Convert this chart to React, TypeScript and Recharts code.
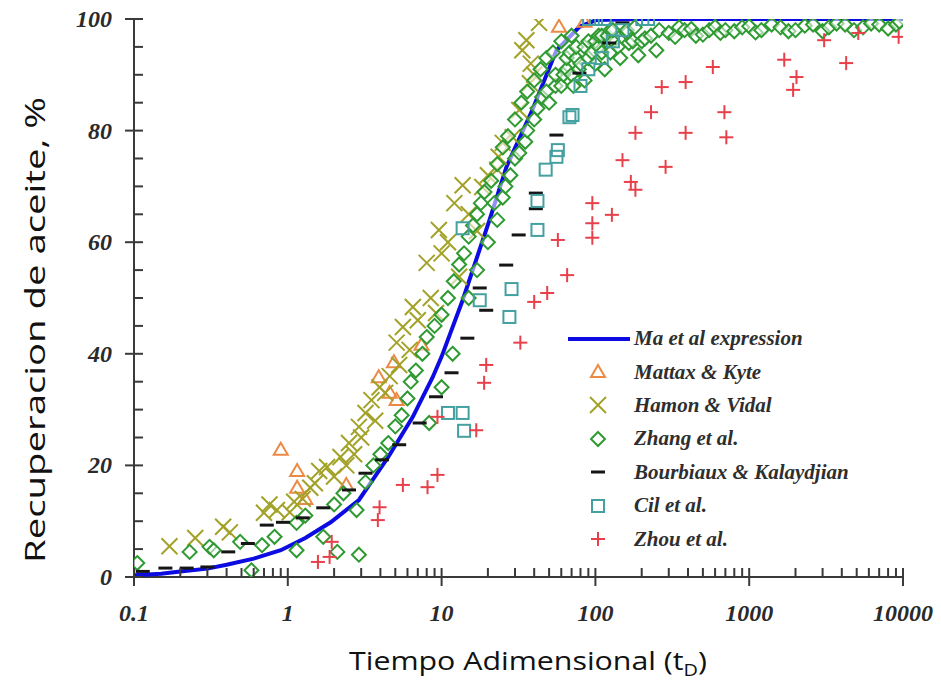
import React from "react";
import { ScatterChart, Scatter, XAxis, YAxis } from "recharts";

type Pt = [number, number];

// axis ticks
const xMajorTicks = [0.1, 1, 10, 100, 1000, 10000];
const xTickLabels = ["0.1", "1", "10", "100", "1000", "10000"];
const yMajorTicks = [0, 20, 40, 60, 80, 100];

// Ma et al expression (t_D, recovery %)
const maCurve: Pt[] = [
  [0.1, 0.3], [0.15, 0.6], [0.2, 1], [0.3, 1.5], [0.4, 2.2], [0.6, 3.3],
  [0.9, 4.8], [1.3, 7], [1.9, 9.8], [2.9, 13.8], [4.5, 21.5], [6.5, 28.7],
  [8.75, 35.8], [10, 39.5], [13.7, 49.6], [20.5, 64], [26.4, 73.5],
  [38.9, 83.7], [55.8, 94.4], [78.7, 98.6], [101, 99.8], [200, 100],
  [1000, 100], [10000, 100],
];

const mattaxKyte: Pt[] = [
  [0.9, 22.8], [1.15, 19], [1.15, 16], [1.3, 14], [2.4, 16.5], [3.9, 35.8],
  [4.9, 38.5], [5.1, 31.7], [4.6, 33], [7.4, 41.6], [58, 98.6], [85, 99.5],
];

const hamonVidal: Pt[] = [
  [0.17, 5.5], [0.25, 7], [0.38, 9], [0.42, 8], [0.7, 11.5], [0.76, 13],
  [0.85, 12], [1.03, 11.6], [1.1, 13.5], [1.25, 14], [1.4, 16], [1.5, 16.8],
  [1.6, 19], [1.8, 19.7], [2.0, 18], [2.2, 21.5], [2.4, 20], [2.5, 24],
  [2.7, 22], [2.9, 26.9], [3.2, 29.4], [3.0, 25], [3.5, 31.7], [3.7, 28],
  [3.95, 34], [4.3, 33], [4.6, 36], [5.1, 42], [5.3, 38], [5.6, 44.8],
  [6.2, 40.7], [6.5, 48.4], [7, 46], [8, 56.3], [8.5, 50], [9.2, 47.3],
  [9.6, 62.2], [10, 58], [11, 60], [12.1, 67], [13, 53.8], [13.7, 70.2],
  [15, 65], [17, 62], [18.4, 69.9], [20, 72], [23, 73], [25, 77.8],
  [23.5, 75.3], [29, 78.8], [32, 83.7], [33.5, 94.4], [35.6, 96.2],
  [37.5, 88.5], [40, 90], [43, 99.3], [38, 92],
];

const zhang: Pt[] = [
  [0.105, 2.5], [0.23, 4.5], [0.31, 5.4], [0.33, 4.8], [0.49, 6.3], [0.58, 1.2],
  [0.68, 5.7], [0.82, 7.2], [1.14, 9.7], [1.14, 4.8], [1.3, 11], [1.7, 7.2],
  [2.1, 4.5], [2.9, 4], [2.8, 12], [2.0, 13], [2.3, 15], [3.2, 17], [3.6, 20],
  [4.0, 22], [4.5, 24], [5, 27], [5.5, 29], [6, 32], [6.3, 35], [6.8, 37],
  [7.5, 40], [8, 43], [8.3, 27.6], [9, 45], [10, 34], [10, 47], [11, 50],
  [11.8, 40], [12, 53], [13, 56], [14, 58], [15, 61], [15, 50], [16, 63],
  [17, 65], [17, 55], [18, 67], [19, 69], [20, 60], [21, 71], [22, 67],
  [23, 74], [23, 64], [25, 77], [25, 68], [26, 70], [27, 79], [28, 72],
  [30, 75], [30, 82], [32, 76], [33, 85], [35, 78], [36, 87], [36, 80],
  [40, 82], [40, 89], [42, 84], [44, 91], [45, 86], [48, 93], [48, 87],
  [50, 85], [53, 94], [55, 88], [55, 90], [60, 88], [60, 96], [62, 90],
  [65, 91], [65, 93], [68, 94], [70, 90], [70, 97], [72, 88], [75, 93],
  [75, 95], [78, 91], [80, 92], [85, 89], [85, 95], [90, 93], [90, 96],
  [95, 94], [100, 92], [100, 96], [105, 95], [105, 97], [110, 94], [110, 97],
  [115, 91], [120, 97], [125, 94], [125, 98], [130, 96], [130, 98], [140, 95],
  [145, 93], [160, 97.5], [160, 98], [165, 95.7], [175, 96], [180, 98.5],
  [190, 93.5], [200, 96], [210, 96.5], [230, 97], [249, 94.4], [260, 98],
  [300, 97.5], [330, 96.8], [350, 98.5], [380, 98], [420, 98.2], [450, 97],
  [500, 97.2], [550, 98], [600, 98.6], [650, 97.5], [700, 98], [800, 97.8],
  [900, 98.5], [1000, 98.7], [1100, 97.6], [1200, 98], [1400, 99], [1600, 98.5],
  [1800, 97.8], [2000, 98], [2300, 98.8], [2600, 99], [3000, 97.8], [3300, 98.5],
  [3700, 99.2], [4200, 99], [4800, 98], [5500, 98.5], [6200, 99.2], [7000, 99],
  [8000, 98.3], [9000, 99], [9500, 99.5],
];

const bourbiaux: Pt[] = [
  [0.114, 1], [0.16, 1.6], [0.22, 1.6], [0.3, 1.8], [0.41, 4.5], [0.55, 6],
  [0.73, 9.3], [0.93, 9.8], [1.25, 10.6], [1.7, 12.4], [2.5, 15.6], [3.2, 18.6],
  [4.1, 21], [5.3, 23.7], [7.2, 27.6], [9.2, 32.3], [11.6, 36.6], [14.7, 42.8],
  [17.7, 51.8], [19.5, 47.8], [26.3, 55.9], [31.7, 61.3], [41, 66], [41, 68.8],
  [55.8, 79.2], [78.7, 90.3], [123, 95.7], [150, 99.3],
];

const cil: Pt[] = [
  [11, 29.4], [13.7, 29.4], [14, 26.2], [13.7, 62.5], [17.7, 49.6], [27.6, 46.6],
  [28.5, 51.6], [42, 62.2], [42, 67.4], [47.5, 73], [55.8, 75.3], [57, 76.5],
  [67.8, 82.4], [71, 82.8], [80, 88], [90, 91], [110, 93], [130, 96],
  [101, 100], [91, 100], [115, 100], [202, 100], [220, 100], [150, 98],
];

const zhou: Pt[] = [
  [1.57, 2.7], [1.87, 3.6], [1.93, 6.3], [3.85, 10.2], [3.95, 12.5], [5.6, 16.5],
  [8.1, 16.1], [9.4, 18.3], [9.4, 28.7], [16.8, 26.3], [18.9, 34.8], [19.5, 38],
  [32.5, 42], [40, 49.3], [48.6, 50.9], [65.5, 54.1], [57, 60.4], [95.5, 60.8],
  [95.5, 63.4], [95.5, 67], [128, 64.9], [182, 69.4], [170, 70.8], [150, 74.7],
  [286, 73.5], [182, 79.6], [386, 79.6], [710, 78.8], [230, 83.3], [690, 83.3],
  [270, 87.8], [386, 88.7], [580, 91.4], [1690, 92.7], [2030, 89.6],
  [1930, 87.3], [4270, 92.1], [3070, 96.2], [5120, 97.5], [9370, 96.8],
];

const toRows = (pts: Pt[]) => pts.map(([t, r]) => ({ t, r }));

const BLUE = "#0c0ce2";
const ORANGE = "#ec8a45";
const OLIVE = "#a2a228";
const GREEN = "#2f9a32";
const BLACK = "#151515";
const TEAL = "#45a0a0";
const RED = "#e8404a";

const serif = "'Liberation Serif', 'Times New Roman', serif";
const sans = "'Open Sans', 'Noto Sans', sans-serif";

// marker shapes
const Triangle = ({ cx, cy }: any) => (
  <polygon
    points={`${cx},${cy - 7} ${cx - 7},${cy + 5} ${cx + 7},${cy + 5}`}
    fill="none"
    stroke={ORANGE}
    strokeWidth={2}
  />
);
const XMark = ({ cx, cy }: any) => (
  <g stroke={OLIVE} strokeWidth={2}>
    <line x1={cx - 8} y1={cy - 8} x2={cx + 8} y2={cy + 8} />
    <line x1={cx - 8} y1={cy + 8} x2={cx + 8} y2={cy - 8} />
  </g>
);
const Diamond = ({ cx, cy }: any) => (
  <polygon
    points={`${cx},${cy - 7} ${cx + 7},${cy} ${cx},${cy + 7} ${cx - 7},${cy}`}
    fill="rgba(255,255,255,0.55)"
    stroke={GREEN}
    strokeWidth={2}
  />
);
const Dash = ({ cx, cy }: any) => (
  <line x1={cx - 7} y1={cy} x2={cx + 7} y2={cy} stroke={BLACK} strokeWidth={3} />
);
const Square = ({ cx, cy }: any) => (
  <rect x={cx - 6} y={cy - 6} width={12} height={12} fill="none" stroke={TEAL} strokeWidth={2} />
);
const Plus = ({ cx, cy }: any) => (
  <g stroke={RED} strokeWidth={2}>
    <line x1={cx - 7} y1={cy} x2={cx + 7} y2={cy} />
    <line x1={cx} y1={cy - 7} x2={cx} y2={cy + 7} />
  </g>
);

const xMinorTicks: number[] = [];
[0.1, 1, 10, 100, 1000].forEach((d) => {
  for (let k = 2; k <= 9; k++) xMinorTicks.push(+(d * k).toPrecision(3));
});
const xAllTicks = [...xMajorTicks, ...xMinorTicks].sort((a, b) => a - b);
const yAllTicks: number[] = [];
for (let v = 0; v <= 100; v += 5) yAllTicks.push(v);

const tickFont = {
  fontFamily: serif,
  fontWeight: 700,
  fontStyle: "italic",
  fontSize: 24,
  fill: "#2a2a2a",
};

const XTick = (props: any) => {
  const { x, y, payload } = props;
  const idx = xMajorTicks.indexOf(payload.value);
  const major = idx >= 0;
  return (
    <g>
      <line x1={x} x2={x} y1={major ? y + 9 : y} y2={y - 9} stroke="#3a3a3a" strokeWidth={2} />
      {major && (
        <text x={x} y={y + 44} textAnchor="middle" {...tickFont}>
          {xTickLabels[idx]}
        </text>
      )}
    </g>
  );
};

const YTick = (props: any) => {
  const { x, y, payload } = props;
  const major = yMajorTicks.includes(payload.value);
  return (
    <g>
      <line x1={major ? x - 9 : x} x2={x + 9} y1={y} y2={y} stroke="#3a3a3a" strokeWidth={2} />
      {major && (
        <text x={x - 22} y={y + 8} textAnchor="end" {...tickFont}>
          {payload.value}
        </text>
      )}
    </g>
  );
};

const XTitle = () => (
  <text x={349} y={670} fontFamily={sans} fontSize={26} fill="#111" textLength={358} lengthAdjust="spacingAndGlyphs">
    Tiempo Adimensional (t
    <tspan fontSize={17} dy={6}>D</tspan>
    <tspan dy={-6}>)</tspan>
  </text>
);

const YTitle = () => (
  <text
    x={0}
    y={0}
    transform="translate(45,330) rotate(-90)"
    textAnchor="middle"
    fontFamily={sans}
    fontSize={27}
    fill="#111"
    textLength={466}
    lengthAdjust="spacingAndGlyphs"
  >
    Recuperacion de aceite, %
  </text>
);

const legendItems = [
  { label: "Ma et al expression", icon: "line" },
  { label: "Mattax & Kyte", icon: Triangle },
  { label: "Hamon & Vidal", icon: XMark },
  { label: "Zhang et al.", icon: Diamond },
  { label: "Bourbiaux & Kalaydjian", icon: Dash },
  { label: "Cil et al.", icon: Square },
  { label: "Zhou et al.", icon: Plus },
];

const ChartLegend = () => (
  <div style={{ position: "absolute", left: 566, top: 322 }}>
    {legendItems.map((it) => {
      const Icon: any = it.icon;
      return (
        <div key={it.label} style={{ display: "flex", alignItems: "center", height: 33.4 }}>
          <svg width={66} height={24} style={{ display: "block" }}>
            {it.icon === "line" ? (
              <line x1={2} x2={64} y1={12} y2={12} stroke={BLUE} strokeWidth={4} />
            ) : (
              <Icon cx={32} cy={12} />
            )}
          </svg>
          <span
            style={{
              marginLeft: 2,
              fontFamily: serif,
              fontWeight: 700,
              fontStyle: "italic",
              fontSize: 21,
              color: "#2e2e2e",
              whiteSpace: "nowrap",
            }}
          >
            {it.label}
          </span>
        </div>
      );
    })}
  </div>
);

const App = () => {
  return (
    <div style={{ position: "absolute", left: 0, top: 0, width: 941, height: 687, background: "#fff" }}>
      <ScatterChart width={941} height={687} margin={{ top: 19, right: 38, left: 0, bottom: 0 }}>
        <XAxis
          dataKey="t"
          type="number"
          scale="log"
          domain={[0.1, 10000]}
          allowDataOverflow
          ticks={xAllTicks}
          interval={0}
          tick={<XTick />}
          tickLine={false}
          tickSize={0}
          tickMargin={0}
          axisLine={{ stroke: "#3a3a3a", strokeWidth: 2 }}
          height={110}
          label={<XTitle />}
        />
        <XAxis
          xAxisId="top"
          orientation="top"
          type="number"
          scale="log"
          domain={[0.1, 10000]}
          allowDataOverflow
          tick={false}
          tickLine={false}
          height={0}
          axisLine={{ stroke: "#808080", strokeWidth: 2 }}
        />
        <YAxis
          dataKey="r"
          type="number"
          domain={[0, 100]}
          allowDataOverflow
          ticks={yAllTicks}
          interval={0}
          tick={<YTick />}
          tickLine={false}
          tickSize={0}
          tickMargin={0}
          axisLine={{ stroke: "#3a3a3a", strokeWidth: 2 }}
          width={134}
          label={<YTitle />}
        />
        <YAxis
          yAxisId="right"
          orientation="right"
          type="number"
          domain={[0, 100]}
          tick={false}
          tickLine={false}
          width={0}
          axisLine={{ stroke: "#808080", strokeWidth: 2 }}
        />
        <Scatter
          name="Ma et al expression"
          data={toRows(maCurve)}
          line={{ stroke: BLUE, strokeWidth: 4 }}
          lineType="joint"
          shape={() => <g />}
          isAnimationActive={false}
        />
        <Scatter name="Mattax & Kyte" data={toRows(mattaxKyte)} shape={(p: any) => <Triangle cx={p.cx} cy={p.cy} />} isAnimationActive={false} />
        <Scatter name="Hamon & Vidal" data={toRows(hamonVidal)} shape={(p: any) => <XMark cx={p.cx} cy={p.cy} />} isAnimationActive={false} />
        <Scatter name="Zhang et al." data={toRows(zhang)} shape={(p: any) => <Diamond cx={p.cx} cy={p.cy} />} isAnimationActive={false} />
        <Scatter name="Bourbiaux & Kalaydjian" data={toRows(bourbiaux)} shape={(p: any) => <Dash cx={p.cx} cy={p.cy} />} isAnimationActive={false} />
        <Scatter name="Cil et al." data={toRows(cil)} shape={(p: any) => <Square cx={p.cx} cy={p.cy} />} isAnimationActive={false} />
        <Scatter name="Zhou et al." data={toRows(zhou)} shape={(p: any) => <Plus cx={p.cx} cy={p.cy} />} isAnimationActive={false} />
      </ScatterChart>
      <ChartLegend />
    </div>
  );
};

export default App;
